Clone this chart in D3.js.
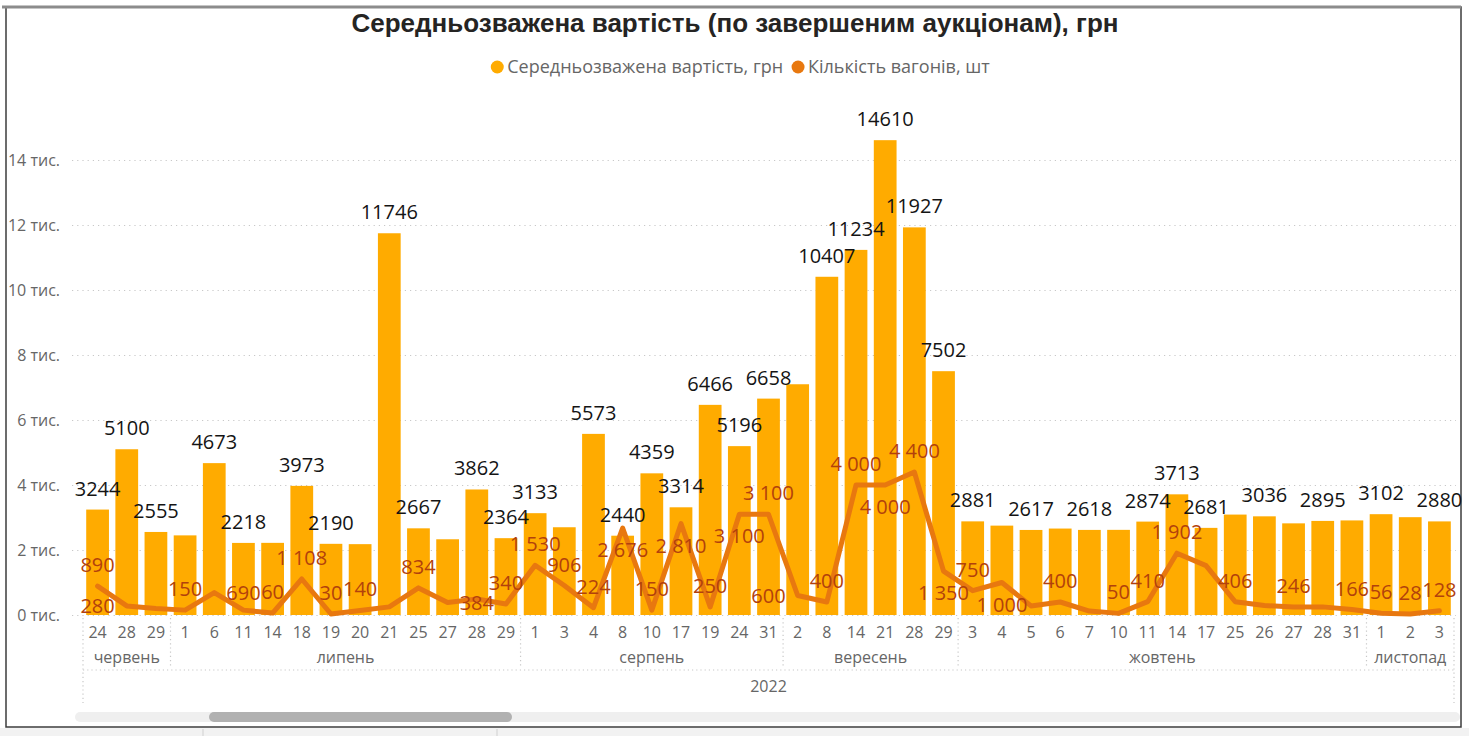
<!DOCTYPE html>
<html>
<head>
<meta charset="utf-8">
<script src="https://cdn.jsdelivr.net/npm/d3@7"></script>
<style>
  body { margin: 0; background: #fff; }
  svg { display: block; font-family: "Open Sans", sans-serif; }
</style>
</head>
<body>
<svg id="chart" width="1469" height="736"></svg>
<script>
// Weighted average price per auction date (bars) and number of wagons (line).

const months = ["червень", "липень", "серпень", "вересень", "жовтень", "листопад"];
const days = [
  [24, 28, 29],
  [1, 6, 11, 14, 18, 19, 20, 21, 25, 27, 28, 29],
  [1, 3, 4, 8, 10, 17, 19, 24, 31],
  [2, 8, 14, 21, 28, 29],
  [3, 4, 5, 6, 7, 10, 11, 14, 17, 25, 26, 27, 28, 31],
  [1, 2, 3]
];

const avgPrice = [
  3244, 5100, 2555,
  2450, 4673, 2218, 2220, 3973, 2190, 2180, 11746, 2667, 2330, 3862, 2364,
  3133, 2700, 5573, 2440, 4359, 3314, 6466, 5196, 6658,
  7100, 10407, 11234, 14610, 11927, 7502,
  2881, 2750, 2617, 2660, 2618, 2620, 2874, 3713, 2681, 3090, 3036, 2820, 2895, 2910,
  3102, 3010, 2880
];

const wagons = [
  890, 280, 200,
  150, 690, 150, 60, 1108, 30, 140, 250, 834, 384, 490, 340,
  1530, 906, 224, 2676, 150, 2810, 250, 3100, 3100,
  600, 400, 4000, 4000, 4400, 1350,
  750, 1000, 280, 400, 120, 50, 410, 1902, 1520, 406, 290, 246, 250, 166,
  56, 28, 128
];

// which price labels are visible (the rest are hidden by overlap)
const priceLabelShown = [
  1, 1, 1,
  0, 1, 1, 0, 1, 1, 0, 1, 1, 0, 1, 1,
  1, 0, 1, 1, 1, 1, 1, 1, 1,
  0, 1, 1, 1, 1, 1,
  1, 0, 1, 0, 1, 0, 1, 1, 1, 0, 1, 0, 1, 0,
  1, 0, 1
];

// wagon label placement: t = above, b = below, L/R = beside in the next band, - = hidden
const wagonLabelPlace = [
  "t", "L", "-",
  "t", "R", "-", "t", "t", "t", "t", "-", "t", "R", "-", "t",
  "t", "t", "t", "b", "t", "b", "t", "b", "t",
  "L", "t", "t", "b", "t", "b",
  "t", "b", "-", "t", "-", "t", "t", "t", "-", "t", "-", "t", "-", "t",
  "t", "t", "t"
];

const yTicks = [0, 2000, 4000, 6000, 8000, 10000, 12000, 14000];

const seriesNames = ["Середньозважена вартість, грн", "Кількість вагонів, шт"];
const titleText = "Середньозважена вартість (по завершеним аукціонам), грн";
const yearText = "2022";

const BAR_COLOR = "#FFAB00";
const LINE_COLOR = "#E8780F";
const LINE_LABEL_COLOR = "#B2410C";
const GREY_TEXT = "#666666";
const GRID_COLOR = "#c8c8c8";

let chart = {
  init: function() {
    let svg = d3.select("#chart");
    chart.buildCategories();

    chart.x = d3.scaleBand()
      .domain(d3.range(chart.cats.length))
      .range([83, 1454])
      .paddingInner(0.22)
      .paddingOuter(0.11);

    chart.y = d3.scaleLinear()
      .domain([0, 14000])
      .range([615, 160]);

    chart.drawFrame(svg);
    chart.drawTitleLegend(svg);
    chart.drawYAxis(svg);
    chart.drawBars(svg);
    chart.drawLine(svg);
    chart.drawXAxis(svg);
    chart.drawScrollbar(svg);
  },

  buildCategories: function() {
    chart.cats = [];
    chart.groups = [];
    months.forEach(function(m, mi) {
      let start = chart.cats.length;
      days[mi].forEach(function(d) {
        chart.cats.push({day: d, month: m});
      });
      chart.groups.push({name: m, first: start, last: chart.cats.length - 1});
    });
  },

  bandCentre: function(i) {
    return chart.x(i) + chart.x.bandwidth() / 2;
  },

  drawFrame: function(svg) {
    svg.append("rect").attr("x", 0).attr("y", 728).attr("width", 1469).attr("height", 8)
      .attr("fill", "#f2f2f2");
    [203, 497].forEach(function(px) {
      svg.append("line").attr("x1", px).attr("x2", px).attr("y1", 729).attr("y2", 736)
        .attr("stroke", "#d0d0d0");
    });
    svg.append("rect")
      .attr("x", 6).attr("y", 7).attr("width", 1455).attr("height", 720)
      .attr("fill", "#fff")
      .attr("stroke", "#3c3c3c")
      .attr("stroke-width", 1.5);
    svg.append("line").attr("x1", 2).attr("x2", 1461).attr("y1", 7).attr("y2", 7)
      .attr("stroke", "#8c8c8c").attr("stroke-width", 3);
  },

  drawTitleLegend: function(svg) {
    svg.append("text")
      .attr("x", 735).attr("y", 32)
      .attr("text-anchor", "middle")
      .style("font-family", "'Liberation Sans', Arial, sans-serif")
      .style("font-weight", "bold")
      .style("font-size", "26px")
      .attr("fill", "#252423")
      .text(titleText);

    let colors = [BAR_COLOR, LINE_COLOR];
    let leg = svg.append("g");
    let xPos = 0;
    seriesNames.forEach(function(name, i) {
      leg.append("circle").attr("cx", xPos + 7).attr("cy", 67).attr("r", 6.5)
        .attr("fill", colors[i]);
      let t = leg.append("text")
        .attr("x", xPos + 17).attr("y", 73)
        .style("font-size", "18px")
        .attr("fill", GREY_TEXT)
        .text(name);
      xPos += 17 + t.node().getComputedTextLength() + 8;
    });
    leg.attr("transform", "translate(" + (740 - (xPos - 8) / 2) + ",0)");
  },

  drawYAxis: function(svg) {
    let axis = d3.axisLeft(chart.y)
      .tickValues(yTicks)
      .tickFormat(function(d) { return (d / 1000) + " тис."; })
      .tickSize(-(1456 - 72))
      .tickPadding(12);
    let g = svg.append("g")
      .attr("transform", "translate(72,0)")
      .call(axis);
    g.select(".domain").remove();
    g.selectAll(".tick line")
      .attr("stroke", GRID_COLOR)
      .attr("stroke-width", 1.2)
      .attr("stroke-dasharray", "1.2 4");
    g.selectAll(".tick text")
      .style("font-family", "'Open Sans', sans-serif")
      .style("font-size", "16px")
      .attr("fill", GREY_TEXT);
  },

  drawBars: function(svg) {
    let pts = avgPrice.map(function(v, i) { return {v: v, i: i}; });
    let g = svg.append("g");
    g.selectAll("rect.bar")
      .data(pts)
      .enter().append("rect")
        .attr("class", "bar")
        .attr("x", function(d) { return chart.x(d.i); })
        .attr("width", chart.x.bandwidth())
        .attr("y", function(d) { return chart.y(d.v); })
        .attr("height", function(d) { return chart.y(0) - chart.y(d.v); })
        .attr("fill", BAR_COLOR);

    g.selectAll("text.price")
      .data(pts.filter(function(d) { return priceLabelShown[d.i]; }))
      .enter().append("text")
        .attr("class", "price")
        .attr("x", function(d) { return chart.bandCentre(d.i); })
        .attr("y", function(d) { return chart.y(d.v) - 14; })
        .attr("text-anchor", "middle")
        .style("font-size", "20px")
        .attr("fill", "#141414")
        .text(function(d) { return d.v; });
  },

  drawLine: function(svg) {
    let line = d3.line()
      .x(function(d, i) { return chart.bandCentre(i); })
      .y(function(d) { return chart.y(d); });

    svg.append("path")
      .datum(wagons)
      .attr("d", line)
      .attr("fill", "none")
      .attr("stroke", LINE_COLOR)
      .attr("stroke-width", 5)
      .attr("stroke-linejoin", "round")
      .attr("stroke-linecap", "round");

    let fmt = function(v) { return d3.format(",")(v).replace(/,/g, " "); };
    let step = chart.x.step();
    let g = svg.append("g");
    wagons.forEach(function(v, i) {
      let place = wagonLabelPlace[i];
      if (place === "-") return;
      let px = chart.bandCentre(i), py = chart.y(v);
      if (place === "t") py = py - 14;
      else if (place === "b") py = py + 29;
      else {
        py = py + 7;
        px = px + (place === "L" ? -step : step);
      }
      g.append("text")
        .attr("x", px).attr("y", py)
        .attr("text-anchor", "middle")
        .style("font-size", "20px")
        .attr("fill", LINE_LABEL_COLOR)
        .text(fmt(v));
    });
  },

  drawXAxis: function(svg) {
    let axis = d3.axisBottom(chart.x)
      .tickFormat(function(i) { return chart.cats[i].day; })
      .tickSize(0)
      .tickPadding(12);
    let g = svg.append("g")
      .attr("transform", "translate(0,615)")
      .call(axis);
    g.select(".domain").remove();
    g.selectAll(".tick text")
      .style("font-family", "'Open Sans', sans-serif")
      .style("font-size", "16px")
      .attr("fill", GREY_TEXT);

    let gap = (chart.x.step() - chart.x.bandwidth()) / 2;
    let left = chart.x.range()[0], right = chart.x.range()[1];
    let dotted = function(x1, y1, x2, y2) {
      svg.append("line")
        .attr("x1", x1).attr("y1", y1).attr("x2", x2).attr("y2", y2)
        .attr("stroke", GRID_COLOR)
        .attr("stroke-width", 1.2)
        .attr("stroke-dasharray", "1.2 3");
    };

    chart.groups.forEach(function(grp, gi) {
      let x0 = gi === 0 ? left : chart.x(grp.first) - gap;
      let x1 = gi === chart.groups.length - 1 ? right : chart.x(grp.last) + chart.x.bandwidth() + gap;
      if (gi > 0) dotted(x0, 618, x0, 668);
      svg.append("text")
        .attr("x", (x0 + x1) / 2).attr("y", 663)
        .attr("text-anchor", "middle")
        .style("font-size", "16px")
        .attr("fill", GREY_TEXT)
        .text(grp.name);
    });

    dotted(left, 618, left, 703);
    dotted(right, 618, right, 703);
    dotted(left, 670, right, 670);

    svg.append("text")
      .attr("x", (left + right) / 2).attr("y", 692)
      .attr("text-anchor", "middle")
      .style("font-size", "16px")
      .attr("fill", GREY_TEXT)
      .text(yearText);
  },

  drawScrollbar: function(svg) {
    svg.append("rect")
      .attr("x", 75).attr("y", 712).attr("width", 1385).attr("height", 10).attr("rx", 5)
      .attr("fill", "#efefef");
    svg.append("rect")
      .attr("x", 209).attr("y", 712).attr("width", 303).attr("height", 10).attr("rx", 5)
      .attr("fill", "#b1b1b1");
  }
};

chart.init();
</script>
</body>
</html>
